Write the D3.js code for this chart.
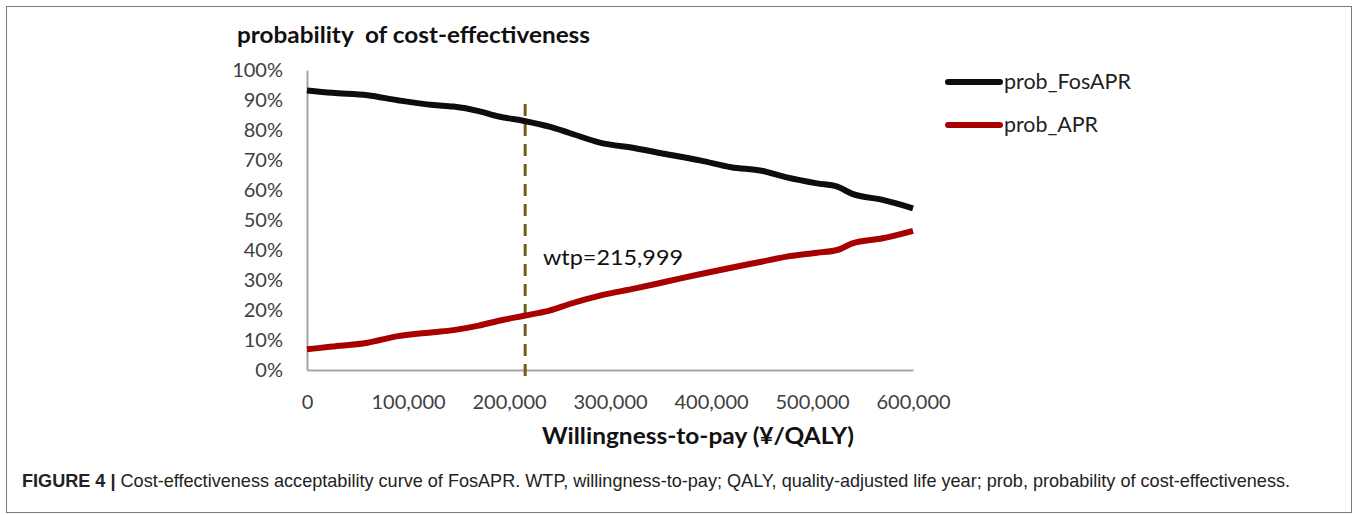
<!DOCTYPE html>
<html>
<head>
<meta charset="utf-8">
<script src="https://cdn.jsdelivr.net/npm/d3@7"></script>
<style>
  html, body { margin: 0; padding: 0; background: #fff; }
  svg { display: block; }
</style>
</head>
<body>
<svg id="chart" width="1357" height="515"></svg>
<script>
// ---- data ----
const wtp = [0, 25000, 60000, 90000, 125000, 145000, 170000, 190000, 215000, 240000, 260000, 290000,
             325000, 355000, 390000, 420000, 450000, 475000, 505000, 525000, 540000, 570000, 600000];
const probFosAPR = [0.932, 0.924, 0.916, 0.899, 0.883, 0.878, 0.863, 0.845, 0.830, 0.811, 0.790, 0.758,
                    0.739, 0.720, 0.698, 0.676, 0.664, 0.642, 0.622, 0.611, 0.587, 0.567, 0.539];
const probAPR    = [0.069, 0.078, 0.091, 0.113, 0.126, 0.133, 0.148, 0.164, 0.181, 0.198, 0.220, 0.248,
                    0.272, 0.294, 0.320, 0.341, 0.361, 0.378, 0.391, 0.400, 0.422, 0.439, 0.464];
const seriesNames = ["prob_FosAPR", "prob_APR"];
const seriesColors = ["#0d0d0d", "#a80000"];
const yTicks = [0, 0.1, 0.2, 0.3, 0.4, 0.5, 0.6, 0.7, 0.8, 0.9, 1.0];
const xTicks = [0, 100000, 200000, 300000, 400000, 500000, 600000];
const wtpThreshold = 215999;
const titleText = "probability  of cost-effectiveness";
const xTitleText = "Willingness-to-pay (¥/QALY)";
const annotationText = "wtp=215,999";
const captionBold = "FIGURE 4 |";
const captionText = " Cost-effectiveness acceptability curve of FosAPR. WTP, willingness-to-pay; QALY, quality-adjusted life year; prob, probability of cost-effectiveness.";

// ---- layout ----
const svg = d3.select("#chart");
const FONT = "Lato, 'Open Sans', sans-serif";
const x = d3.scaleLinear().domain([0, 600000]).range([307, 913]);
const y = d3.scaleLinear().domain([0, 1]).range([370, 70]);

// frame
svg.append("rect").attr("x", 6.5).attr("y", 6.5).attr("width", 1345).attr("height", 506)
  .attr("fill", "none").attr("stroke", "#7a7a7a").attr("stroke-width", 1);

// title
svg.append("text").attr("x", 237).attr("y", 43)
  .attr("font-family", FONT).attr("font-weight", "bold").attr("font-size", 22)
  .attr("fill", "#111").style("white-space", "pre")
  .attr("textLength", 353).attr("lengthAdjust", "spacingAndGlyphs")
  .text(titleText);

// y axis
const yAxis = svg.append("g").attr("transform", `translate(${x(0)},0)`)
  .call(d3.axisLeft(y).tickValues(yTicks).tickFormat(d3.format(".0%")).tickSize(0).tickSizeOuter(0).tickPadding(24));
yAxis.select(".domain").attr("stroke", "#a6a6a6").attr("stroke-width", 2);
yAxis.selectAll("text").attr("font-family", FONT).attr("font-size", 20).attr("fill", "#404040");

// x axis
const xAxis = svg.append("g").attr("transform", `translate(0,${y(0)})`)
  .call(d3.axisBottom(x).tickValues(xTicks).tickFormat(d3.format(",")).tickSize(0).tickSizeOuter(0).tickPadding(25));
xAxis.select(".domain").attr("stroke", "#a6a6a6").attr("stroke-width", 2);
xAxis.selectAll("text").attr("font-family", FONT).attr("font-size", 20).attr("fill", "#404040");

// x title
svg.append("text").attr("x", 542).attr("y", 444)
  .attr("font-family", FONT).attr("font-weight", "bold").attr("font-size", 22).attr("fill", "#111")
  .attr("textLength", 312).attr("lengthAdjust", "spacingAndGlyphs")
  .text(xTitleText);

// threshold dashed line
svg.append("line")
  .attr("x1", x(wtpThreshold)).attr("x2", x(wtpThreshold))
  .attr("y1", 104).attr("y2", 376)
  .attr("stroke", "#6e5e1a").attr("stroke-width", 3).attr("stroke-dasharray", "12,8");

// series lines
const line = d3.line().x((d, i) => x(wtp[i])).y(d => y(d)).curve(d3.curveMonotoneX);
[probFosAPR, probAPR].forEach((vals, k) => {
  svg.append("path").datum(vals).attr("d", line)
    .attr("fill", "none").attr("stroke", seriesColors[k]).attr("stroke-width", 6)
    .attr("stroke-linejoin", "round").attr("stroke-linecap", "butt");
});

// annotation
svg.append("text").attr("x", 543).attr("y", 265)
  .attr("font-family", FONT).attr("font-size", 21).attr("fill", "#111")
  .attr("textLength", 140).attr("lengthAdjust", "spacingAndGlyphs")
  .text(annotationText);

// legend
const legendY = [82, 125];
const legendW = [127, 94];
seriesNames.forEach((name, k) => {
  svg.append("line").attr("x1", 948).attr("x2", 1000).attr("y1", legendY[k]).attr("y2", legendY[k])
    .attr("stroke", seriesColors[k]).attr("stroke-width", 6).attr("stroke-linecap", "round");
  svg.append("text").attr("x", 1004).attr("y", legendY[k] + 7)
    .attr("font-family", FONT).attr("font-size", 21).attr("fill", "#222")
    .attr("textLength", legendW[k]).attr("lengthAdjust", "spacingAndGlyphs")
    .text(name);
});

// caption
const cap = svg.append("text").attr("x", 22).attr("y", 487)
  .attr("font-family", "'Liberation Sans Narrow', 'Liberation Sans', Arial, sans-serif").attr("font-size", 19).attr("fill", "#222")
  .style("white-space", "pre")
  .attr("textLength", 1268).attr("lengthAdjust", "spacingAndGlyphs");
cap.append("tspan").attr("font-weight", "bold").text(captionBold);
cap.append("tspan").text(captionText);
</script>
</body>
</html>
